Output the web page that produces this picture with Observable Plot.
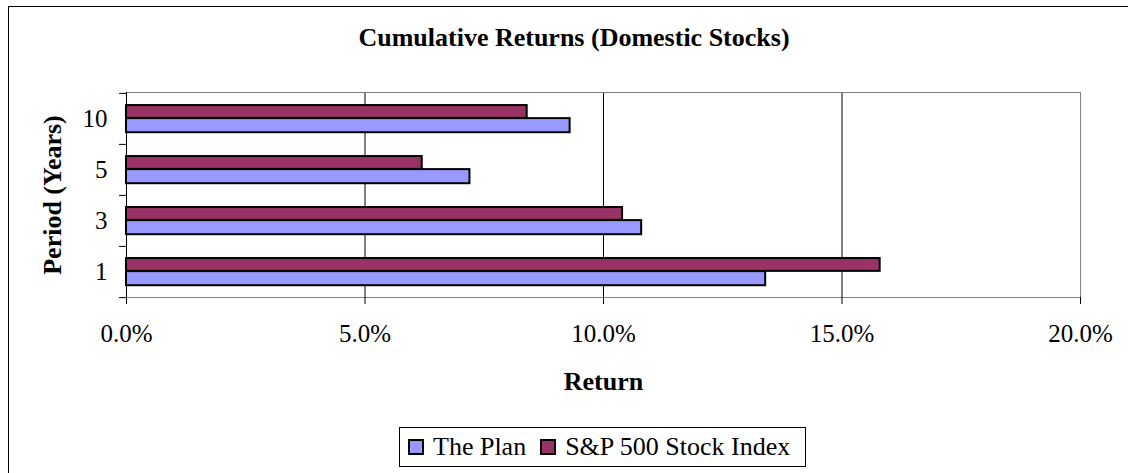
<!DOCTYPE html>
<html>
<head>
<meta charset="utf-8">
<script src="https://cdn.jsdelivr.net/npm/d3@7"></script>
<script src="https://cdn.jsdelivr.net/npm/@observablehq/plot@0.6"></script>
<style>
  body { margin: 0; background: #fff; }
  #wrap { position: relative; width: 1128px; height: 473px; overflow: hidden; background: #fff;
          font-family: "Liberation Serif", "Times New Roman", serif; color: #000; }
  #outer { position: absolute; left: 8px; top: 6px; width: 1400px; height: 800px; border: 1px solid #000; }
  #chart { position: absolute; left: 0; top: 0; }
  #title { position: absolute; left: 8px; width: 1132px; top: 25px; text-align: center;
           font-weight: bold; font-size: 26px; line-height: 26px; white-space: nowrap; }
  #legend { position: absolute; left: 399px; top: 427px; width: 405px; height: 38px;
            border: 1px solid #000; display: flex; align-items: center; box-sizing: content-box;
            font-size: 26px; white-space: nowrap; }
  #legend .sw { display: inline-block; width: 12px; height: 12px; border: 2px solid #000; margin: 0 9px 0 8px; }
  #legend .item { display: flex; align-items: center; }
  #legend .item + .item .sw { margin-left: 14px; }
</style>
</head>
<body>
<div id="wrap">
  <div id="outer"></div>
  <div id="chart"></div>
  <div id="title"></div>
  <div id="legend"></div>
</div>
<script>
const titleText = "Cumulative Returns (Domestic Stocks)";
const xLabel = "Return";
const yLabel = "Period (Years)";
const periods = ["10", "5", "3", "1"];
const planReturns = [9.3, 7.2, 10.8, 13.4];
const spReturns = [8.4, 6.2, 10.4, 15.8];
const xTicks = [0, 5, 10, 15, 20];
const seriesNames = ["The Plan", "S&P 500 Stock Index"];
const seriesColors = ["#9999FF", "#993366"];

const plan = periods.map((p, i) => ({period: p, value: planReturns[i] / 100, series: seriesNames[0]}));
const sp = periods.map((p, i) => ({period: p, value: spReturns[i] / 100, series: seriesNames[1]}));

const W = 1128, H = 473, mT = 92, mB = 176, mL = 126, mR = 48;
const step = (H - mT - mB) / periods.length;
const tickVals = xTicks.map(d => d / 100);
const font = '"Liberation Serif", "Times New Roman", serif';

const chart = Plot.plot({
  width: W, height: H,
  marginTop: mT, marginBottom: mB, marginLeft: mL, marginRight: mR,
  style: {fontFamily: font, fontSize: "25px", color: "#000", background: "transparent"},
  x: {domain: [0, 0.2]},
  y: {domain: periods, padding: 0},
  marks: [
    Plot.gridX(tickVals.slice(1, -1), {stroke: "#000", strokeOpacity: 1}),
    Plot.frame({stroke: "#808080"}),
    Plot.barX(sp, {x: "value", y: "period", fill: seriesColors[1], stroke: "#000", strokeWidth: 2,
                   insetTop: step * 0.235, insetBottom: step * 0.51}),
    Plot.barX(plan, {x: "value", y: "period", fill: seriesColors[0], stroke: "#000", strokeWidth: 2,
                     insetTop: step * 0.49, insetBottom: step * 0.23}),
    Plot.ruleX([0], {stroke: "#000"}),
    Plot.axisX(tickVals, {tickFormat: d3.format(".1%"), tickSize: 7, tickPadding: 20, fontSize: 25,
                          label: xLabel, labelAnchor: "center", labelOffset: 92, labelArrow: "none"}),
    Plot.axisY({tickSize: 0, tickPadding: 19, fontSize: 25, label: yLabel, labelAnchor: "center", labelOffset: 84, labelArrow: "none"}),
    Plot.axisY({fill: "none", tickSize: 7, dy: -step / 2, label: null}),
    Plot.axisY([periods[periods.length - 1]], {fill: "none", tickSize: 7, dy: step / 2, label: null})
  ]
});
document.getElementById("chart").appendChild(chart);

const svg = d3.select(chart);
svg.selectAll('g[aria-label="x-axis tick label"], g[aria-label="y-axis tick label"]')
  .style("font-size", "25px");
svg.selectAll('g[aria-label="x-axis label"], g[aria-label="y-axis label"]')
  .style("font-size", "26px").style("font-weight", "bold");
svg.selectAll('g[aria-label="x-axis label"] text, g[aria-label="y-axis label"] text')
  .style("font-size", "26px").style("font-weight", "bold");

document.getElementById("title").textContent = titleText;

const legend = d3.select("#legend");
seriesNames.forEach((name, i) => {
  const item = legend.append("span").attr("class", "item");
  item.append("span").attr("class", "sw").style("background", seriesColors[i]);
  item.append("span").text(name);
});
</script>
</body>
</html>
